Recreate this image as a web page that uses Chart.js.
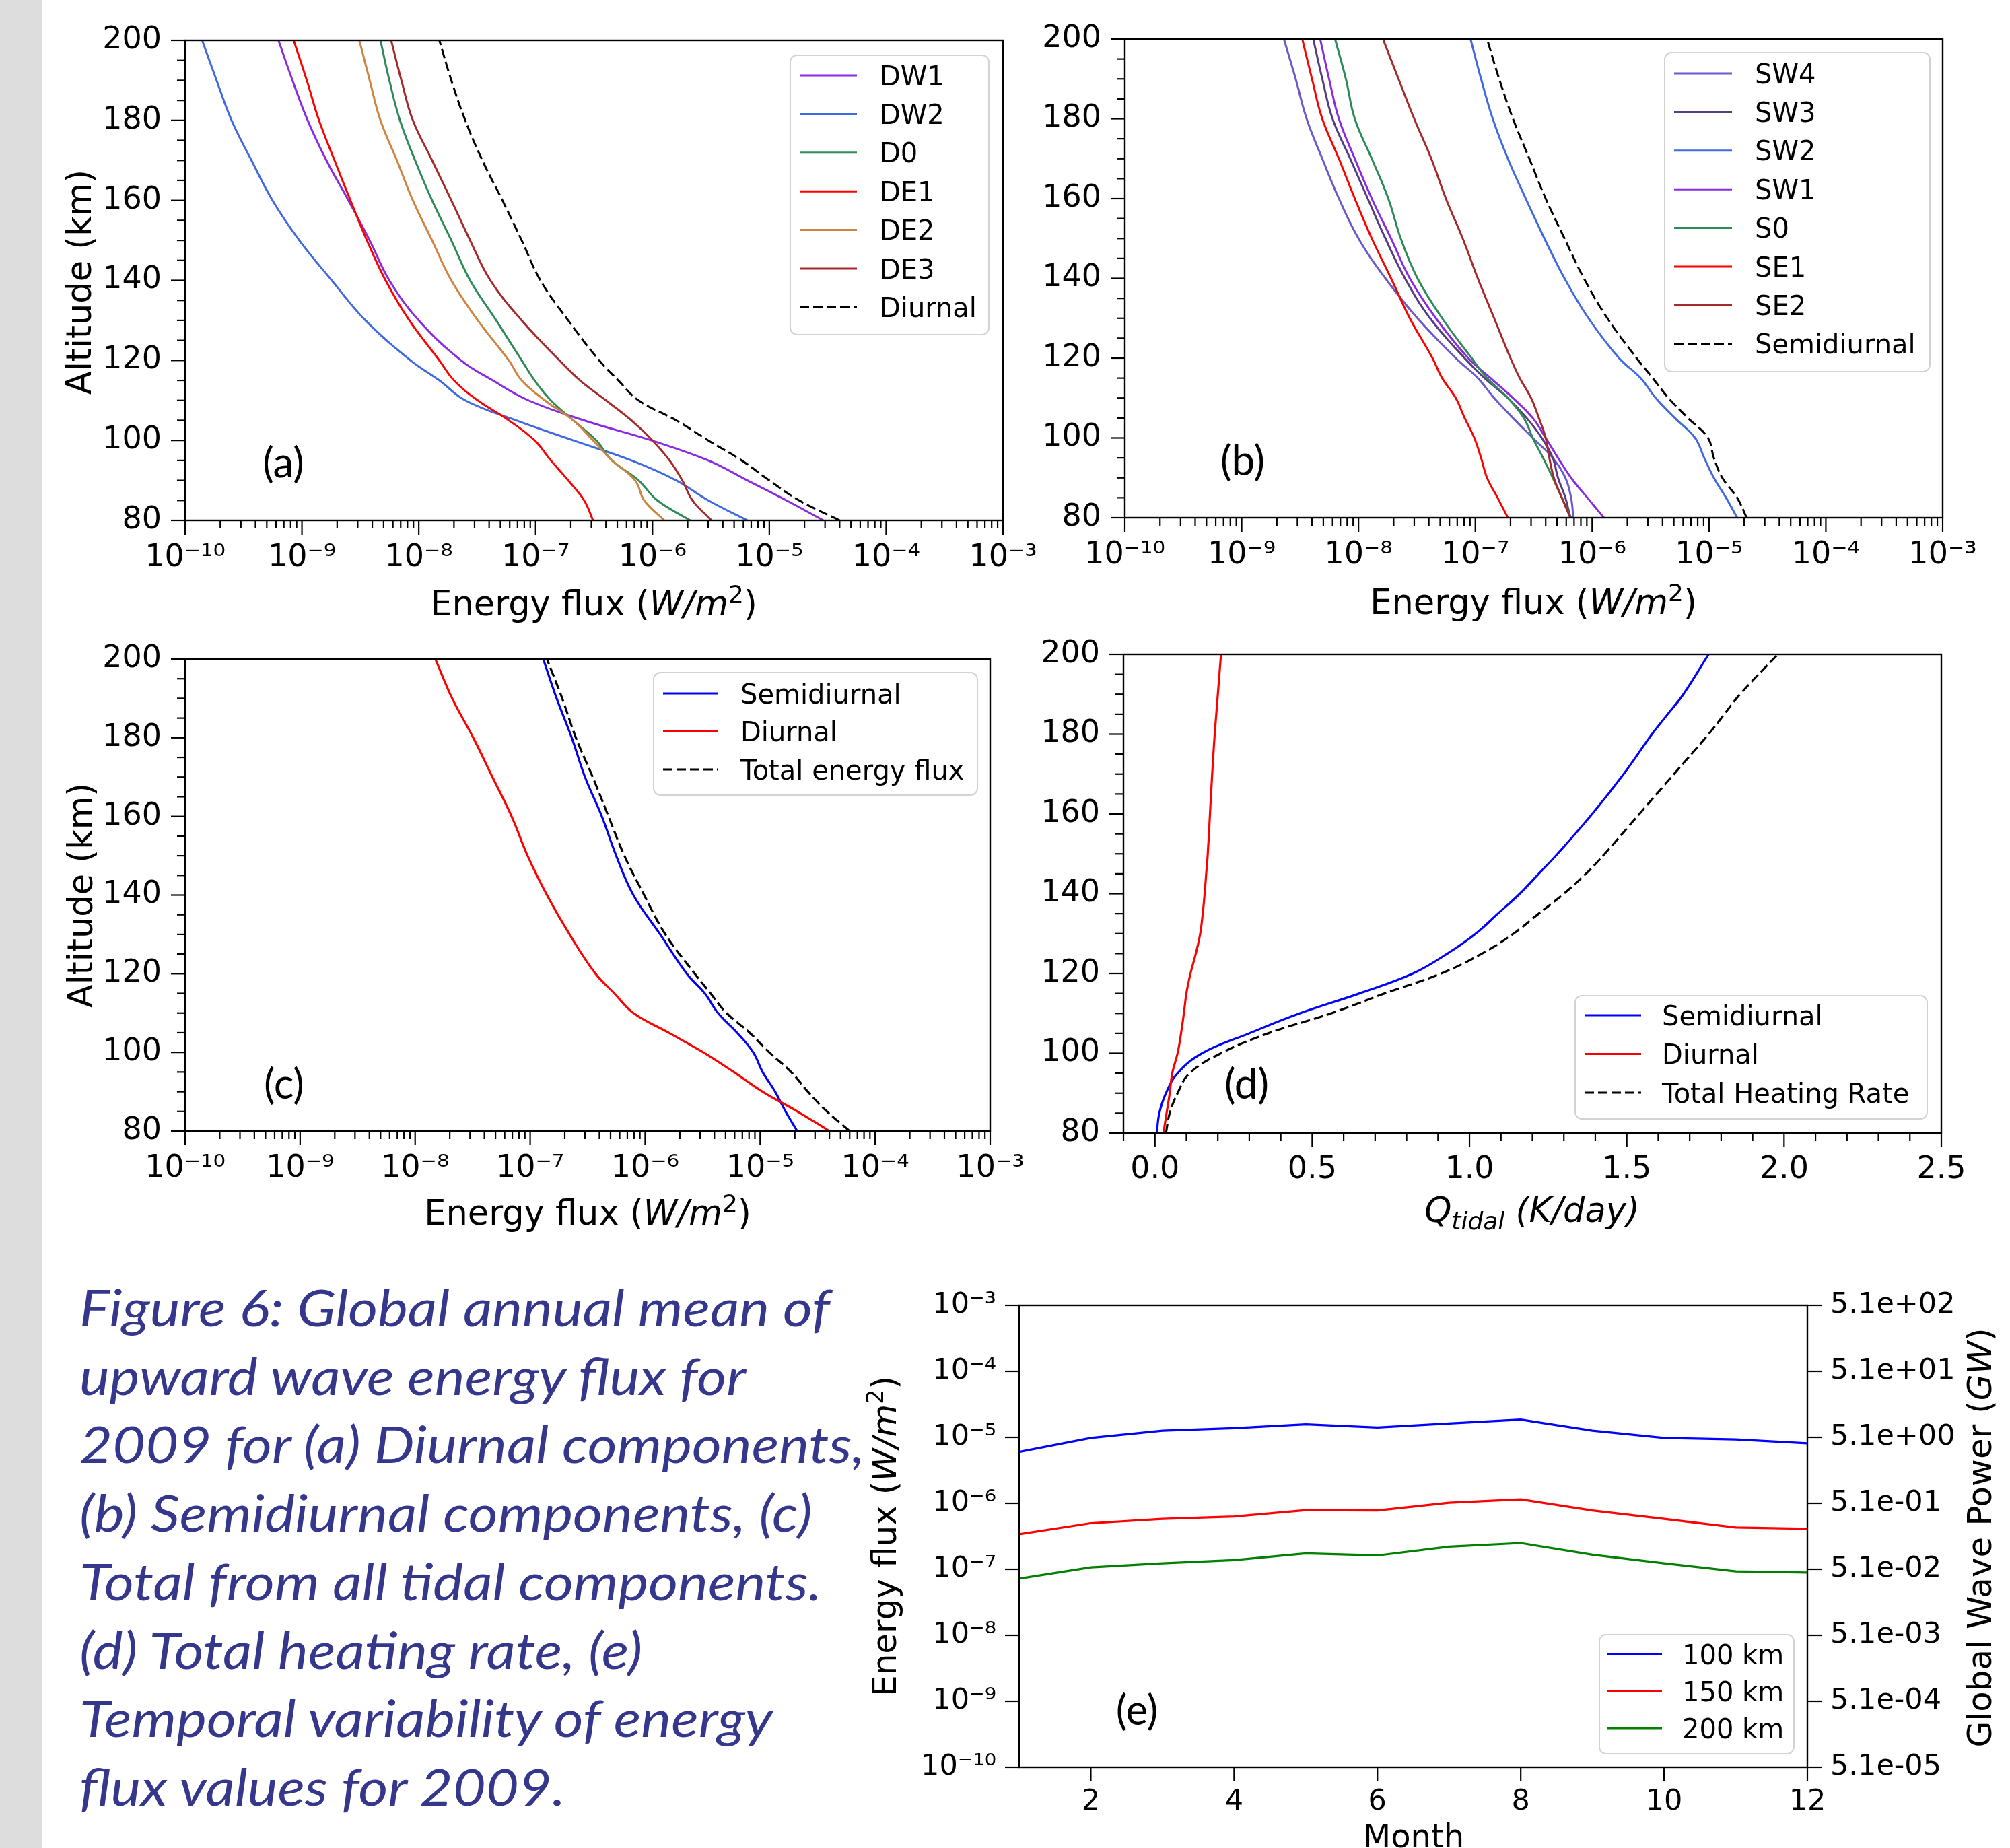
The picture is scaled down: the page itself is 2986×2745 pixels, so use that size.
<!DOCTYPE html>
<html>
<head>
<meta charset="utf-8">
<script src="https://cdn.jsdelivr.net/npm/chart.js@4.4.0/dist/chart.umd.min.js"></script>
<style>
html,body{margin:0;padding:0;background:#fff;}
body{width:2986px;height:2745px;position:relative;overflow:hidden;}
#bar{position:absolute;left:0;top:0;width:63px;height:2745px;background:#dddddd;}
canvas{position:absolute;}
#caption{position:absolute;left:118px;top:1900px;font-family:Lato,"Open Sans",sans-serif;font-style:italic;font-size:76px;line-height:101.7px;color:#34378c;white-space:nowrap;transform-origin:0 0;}
#caption .bl{display:inline-block;width:0;height:0;}
</style>
</head>
<body>
<div id="bar"></div>
<div id="caption"></div>
<canvas id="pa"></canvas>
<canvas id="pb"></canvas>
<canvas id="pc"></canvas>
<canvas id="pd"></canvas>
<canvas id="pe"></canvas>
<script>
// ---------------- DATA ----------------
const ALT = [80, 85, 90, 95, 100, 105, 110, 115, 120, 130, 140, 150, 160, 170, 180, 190, 200];

// (a) Diurnal components, energy flux W/m^2
const DW1 = [2.9e-5, 1.4e-5, 6.5e-6, 3.0e-6, 9.8e-7, 2.6e-7, 8.7e-8, 4.3e-8, 2.3e-8, 1.0e-8, 5.6e-9, 3.8e-9, 2.5e-9, 1.62e-9, 1.12e-9, 8.3e-10, 6.3e-10];
const DW2 = [6.5e-6, 3.0e-6, 1.6e-6, 6.6e-7, 2.1e-7, 6.8e-8, 2.5e-8, 1.5e-8, 8.5e-9, 3.5e-9, 1.8e-9, 9.5e-10, 5.6e-10, 3.7e-10, 2.5e-10, 1.86e-10, 1.4e-10];
const D0  = [2.1e-6, 1.1e-6, 7.6e-7, 4.5e-7, 3.3e-7, 2.1e-7, 1.35e-7, 9.8e-8, 7.6e-8, 4.6e-8, 2.75e-8, 1.9e-8, 1.3e-8, 9.3e-9, 6.9e-9, 5.6e-9, 4.7e-9];
const DE1 = [3.1e-7, 2.6e-7, 1.9e-7, 1.35e-7, 9.8e-8, 5.9e-8, 3.2e-8, 2.0e-8, 1.5e-8, 8.3e-9, 5.2e-9, 3.6e-9, 2.6e-9, 1.9e-9, 1.4e-9, 1.1e-9, 8.5e-10];
const DE2 = [1.26e-6, 8.5e-7, 7.1e-7, 4.5e-7, 3.1e-7, 2.1e-7, 1.2e-7, 7.6e-8, 5.9e-8, 3.2e-8, 1.9e-8, 1.3e-8, 8.9e-9, 6.5e-9, 4.7e-9, 3.8e-9, 3.1e-9];
const DE3 = [3.2e-6, 2.2e-6, 1.8e-6, 1.4e-6, 1.0e-6, 6.6e-7, 4.0e-7, 2.4e-7, 1.6e-7, 7.6e-8, 4.1e-8, 2.75e-8, 1.9e-8, 1.3e-8, 8.9e-9, 7.1e-9, 5.8e-9];
const DIURNAL_A = [4.0e-5, 1.8e-5, 1.0e-5, 5.8e-6, 3.0e-6, 1.6e-6, 7.6e-7, 5.1e-7, 3.5e-7, 1.9e-7, 1.1e-7, 7.6e-8, 5.2e-8, 3.5e-8, 2.5e-8, 1.9e-8, 1.5e-8];

// (b) Semidiurnal components
const SW4 = [6.9e-7, 6.6e-7, 5.9e-7, 4.6e-7, 3.1e-7, 2.1e-7, 1.45e-7, 1.05e-7, 6.8e-8, 3.2e-8, 1.7e-8, 1.0e-8, 6.8e-9, 4.9e-9, 3.6e-9, 2.9e-9, 2.3e-9];
const SW3 = [6.5e-7, 5.9e-7, 5.1e-7, 4.6e-7, 3.7e-7, 2.75e-7, 1.9e-7, 1.2e-7, 8.1e-8, 4.1e-8, 2.5e-8, 1.7e-8, 1.2e-8, 8.5e-9, 6.0e-9, 4.9e-9, 4.1e-9];
const SW2 = [1.74e-5, 1.4e-5, 1.1e-5, 9.1e-6, 7.6e-6, 5.1e-6, 3.5e-6, 2.6e-6, 1.7e-6, 9.3e-7, 5.8e-7, 3.9e-7, 2.7e-7, 1.9e-7, 1.41e-7, 1.12e-7, 9.1e-8];
const SW1 = [1.26e-6, 9.1e-7, 6.6e-7, 5.1e-7, 4.0e-7, 3.1e-7, 2.1e-7, 1.35e-7, 8.7e-8, 4.6e-8, 2.75e-8, 1.9e-8, 1.3e-8, 9.3e-9, 6.8e-9, 5.6e-9, 4.7e-9];
const S0  = [6.6e-7, 5.5e-7, 4.6e-7, 3.8e-7, 3.1e-7, 2.6e-7, 1.9e-7, 1.26e-7, 9.3e-8, 5.2e-8, 3.2e-8, 2.3e-8, 1.8e-8, 1.3e-8, 9.3e-9, 7.8e-9, 6.3e-9];
const SE1 = [1.9e-7, 1.55e-7, 1.26e-7, 1.12e-7, 9.8e-8, 8.1e-8, 6.8e-8, 5.2e-8, 4.3e-8, 2.75e-8, 1.9e-8, 1.3e-8, 9.3e-9, 6.8e-9, 4.9e-9, 4.0e-9, 3.3e-9];
const SE2 = [6.5e-7, 5.5e-7, 4.7e-7, 4.3e-7, 4.0e-7, 3.5e-7, 3.0e-7, 2.4e-7, 2.0e-7, 1.45e-7, 1.05e-7, 7.8e-8, 5.6e-8, 4.2e-8, 3.0e-8, 2.2e-8, 1.62e-8];
const SEMIDIURNAL_B = [2.1e-5, 1.74e-5, 1.3e-5, 1.1e-5, 9.8e-6, 6.6e-6, 4.5e-6, 3.3e-6, 2.4e-6, 1.35e-6, 8.5e-7, 5.8e-7, 4.0e-7, 2.9e-7, 2.1e-7, 1.6e-7, 1.26e-7];

// (c) Totals
const SEMIDIURNAL_C = [2.1e-5, 1.66e-5, 1.35e-5, 1.05e-5, 8.7e-6, 6.3e-6, 4.3e-6, 3.3e-6, 2.3e-6, 1.35e-6, 7.9e-7, 5.6e-7, 4.2e-7, 3.0e-7, 2.3e-7, 1.7e-7, 1.3e-7];
const DIURNAL_C = [4.0e-5, 2.1e-5, 1.05e-5, 5.9e-6, 3.2e-6, 1.6e-6, 7.9e-7, 5.4e-7, 3.7e-7, 2.2e-7, 1.4e-7, 9.5e-8, 6.9e-8, 4.7e-8, 3.2e-8, 2.1e-8, 1.5e-8];
const TOTAL_C = [6.0e-5, 3.8e-5, 2.6e-5, 1.86e-5, 1.2e-5, 8.1e-6, 5.1e-6, 3.7e-6, 2.7e-6, 1.5e-6, 9.8e-7, 6.6e-7, 4.8e-7, 3.5e-7, 2.5e-7, 1.9e-7, 1.4e-7];

// (d) Heating rate K/day
const Q_ALT = [80, 85, 90, 95, 100, 105, 110, 115, 120, 125, 130, 135, 140, 145, 150, 160, 170, 180, 185, 190, 200];
const Q_SEMI  = [0.006, 0.014, 0.035, 0.072, 0.15, 0.30, 0.46, 0.65, 0.82, 0.93, 1.02, 1.09, 1.16, 1.22, 1.28, 1.39, 1.49, 1.58, 1.63, 1.68, 1.76];
const Q_DIUR  = [0.027, 0.037, 0.047, 0.055, 0.072, 0.083, 0.092, 0.10, 0.113, 0.13, 0.144, 0.152, 0.158, 0.163, 0.168, 0.175, 0.182, 0.19, 0.195, 0.20, 0.21];
const Q_TOTAL = [0.035, 0.047, 0.072, 0.11, 0.21, 0.36, 0.56, 0.73, 0.91, 1.04, 1.14, 1.22, 1.30, 1.37, 1.43, 1.54, 1.65, 1.76, 1.81, 1.86, 1.98];

// (e) Monthly energy flux
const MONTHS = [1, 2, 3, 4, 5, 6, 7, 8, 9, 10, 11, 12];
const E_100 = [6.0e-6, 9.8e-6, 1.26e-5, 1.38e-5, 1.58e-5, 1.41e-5, 1.62e-5, 1.86e-5, 1.26e-5, 9.8e-6, 9.3e-6, 8.1e-6];
const E_150 = [3.4e-7, 5.0e-7, 5.8e-7, 6.3e-7, 7.9e-7, 7.8e-7, 1.02e-6, 1.15e-6, 7.8e-7, 5.8e-7, 4.3e-7, 4.1e-7];
const E_200 = [7.2e-8, 1.07e-7, 1.23e-7, 1.38e-7, 1.74e-7, 1.62e-7, 2.2e-7, 2.5e-7, 1.66e-7, 1.23e-7, 9.3e-8, 8.9e-8];

// Tick labels
const FLUX_DECADES = [1e-10, 1e-9, 1e-8, 1e-7, 1e-6, 1e-5, 1e-4, 1e-3];
const FLUX_TICK_LABELS = ['10⁻¹⁰', '10⁻⁹', '10⁻⁸', '10⁻⁷', '10⁻⁶', '10⁻⁵', '10⁻⁴', '10⁻³'];
const ALT_TICKS = [80, 100, 120, 140, 160, 180, 200];
const ALT_TICK_LABELS = ['80', '100', '120', '140', '160', '180', '200'];
const Q_TICKS = [0, 0.5, 1, 1.5, 2, 2.5];
const Q_TICK_LABELS = ['0.0', '0.5', '1.0', '1.5', '2.0', '2.5'];
const MONTH_TICKS = [2, 4, 6, 8, 10, 12];
const MONTH_TICK_LABELS = ['2', '4', '6', '8', '10', '12'];
const POWER_TICKS = [5.1e-5, 5.1e-4, 5.1e-3, 5.1e-2, 5.1e-1, 5.1e0, 5.1e1, 5.1e2];
const POWER_TICK_LABELS = ['5.1e-05', '5.1e-04', '5.1e-03', '5.1e-02', '5.1e-01', '5.1e+00', '5.1e+01', '5.1e+02'];

const CAPTION_LINES = [
  'Figure 6: Global annual mean of',
  'upward wave energy flux for',
  '2009 for (a) Diurnal components,',
  '(b) Semidiurnal components, (c)',
  'Total from all tidal components.',
  '(d) Total heating rate, (e)',
  'Temporal variability of energy',
  'flux values for 2009.'
];

// ---------------- STYLE HELPERS ----------------
Chart.defaults.font.family = 'DejaVu Sans';
Chart.defaults.color = '#000';
const DF = '"DejaVu Sans"';
const fnt = (size, style) => (style ? style + ' ' : '') + size + 'px ' + DF;
const DASH = [14, 6];

function roundRect(ctx, x, y, w, h, r) {
  ctx.beginPath();
  ctx.moveTo(x + r, y); ctx.lineTo(x + w - r, y); ctx.arcTo(x + w, y, x + w, y + r, r);
  ctx.lineTo(x + w, y + h - r); ctx.arcTo(x + w, y + h, x + w - r, y + h, r);
  ctx.lineTo(x + r, y + h); ctx.arcTo(x, y + h, x, y + h - r, r);
  ctx.lineTo(x, y + r); ctx.arcTo(x, y, x + r, y, r); ctx.closePath();
}
function drawRuns(ctx, runs, x, y, rot) {
  ctx.save(); ctx.translate(x, y); ctx.rotate(rot);
  ctx.textAlign = 'left'; ctx.textBaseline = 'alphabetic'; ctx.fillStyle = '#000';
  let total = 0;
  const ws = runs.map(r => { ctx.font = r.f; const w = ctx.measureText(r.t).width; total += w; return w; });
  let cx = -total / 2;
  runs.forEach((r, i) => { ctx.font = r.f; ctx.fillText(r.t, cx, r.dy || 0); cx += ws[i]; });
  ctx.restore();
}

const DECO = {};
const decoPlugin = {
  id: 'deco',
  afterDraw(chart) {
    const o = DECO[chart.canvas.id]; if (!o) return;
    const ctx = chart.ctx, ca = chart.chartArea;
    const X = v => v - o.ox, Y = v => v - o.oy;
    ctx.save();
    ctx.strokeStyle = '#000'; ctx.lineWidth = 2.2; ctx.setLineDash([]);
    for (const s of Object.values(chart.scales)) {
      for (const t of s.ticks) {
        const p = s.getPixelForValue(t.value);
        const L = t.major ? 21 : 12;
        ctx.beginPath();
        if (s.position === 'bottom') { ctx.moveTo(p, ca.bottom); ctx.lineTo(p, ca.bottom + L); }
        else if (s.position === 'left') { ctx.moveTo(ca.left, p); ctx.lineTo(ca.left - L, p); }
        else { ctx.moveTo(ca.right, p); ctx.lineTo(ca.right + L, p); }
        ctx.stroke();
      }
    }
    ctx.lineWidth = 2.4;
    ctx.strokeRect(ca.left, ca.top, ca.right - ca.left, ca.bottom - ca.top);
    const lg = o.legend;
    if (lg) {
      const [x0, y0, x1, y1] = lg.box;
      roundRect(ctx, X(x0), Y(y0), x1 - x0, y1 - y0, 10);
      ctx.fillStyle = 'rgba(255,255,255,0.85)'; ctx.fill();
      ctx.strokeStyle = '#d2d2d2'; ctx.lineWidth = 2; ctx.stroke();
      chart.data.datasets.forEach((d, i) => {
        const ry = Y(lg.row0 + i * lg.step);
        ctx.beginPath(); ctx.setLineDash(d.borderDash || []);
        ctx.strokeStyle = d.borderColor; ctx.lineWidth = d.borderWidth;
        ctx.moveTo(X(lg.line[0]), ry); ctx.lineTo(X(lg.line[1]), ry); ctx.stroke();
        ctx.setLineDash([]);
        ctx.fillStyle = '#000'; ctx.font = lg.font; ctx.textAlign = 'left'; ctx.textBaseline = 'alphabetic';
        ctx.fillText(d.label, X(lg.textX), ry + lg.capHalf);
      });
    }
    (o.titles || []).forEach(tt => drawRuns(ctx, tt.runs, X(tt.x), Y(tt.y), tt.rot || 0));
    if (o.label) {
      ctx.fillStyle = '#000'; ctx.font = o.label.font; ctx.textAlign = 'center'; ctx.textBaseline = 'alphabetic';
      ctx.fillText(o.label.text, X(o.label.x), Y(o.label.y));
    }
    ctx.restore();
  }
};

function fluxAxis(o) {
  return {
    type: 'logarithmic', position: o.position, min: 1e-10, max: 1e-3,
    grid: { display: false, drawTicks: true, tickLength: 21 }, border: { display: false },
    ticks: {
      autoSkip: false, maxRotation: 0, minRotation: 0, padding: o.pad, color: '#000',
      font: { family: 'DejaVu Sans', size: o.size },
      callback: (v, i, t) => t[i].major ? FLUX_TICK_LABELS[FLUX_DECADES.indexOf(v)] : ''
    },
    afterBuildTicks: s => {
      const t = [];
      FLUX_DECADES.forEach((d, k) => {
        t.push({ value: d, major: true });
        if (o.minor && k < FLUX_DECADES.length - 1) for (let m = 2; m < 10; m++) t.push({ value: m * d, major: false });
      });
      s.ticks = t;
    },
    afterFit: s => { if (o.height) s.height = o.height; if (o.width) s.width = o.width; }
  };
}
function altAxis(width, pad) {
  return {
    type: 'linear', position: 'left', min: 80, max: 200,
    grid: { display: false, drawTicks: true, tickLength: 21 }, border: { display: false },
    ticks: {
      autoSkip: false, padding: pad, color: '#000', font: { family: 'DejaVu Sans', size: 46 },
      callback: (v, i, t) => t[i].major ? ALT_TICK_LABELS[ALT_TICKS.indexOf(v)] : ''
    },
    afterBuildTicks: s => {
      const t = [];
      for (let a = 80; a <= 200; a += 5) t.push({ value: a, major: ALT_TICKS.includes(a) });
      s.ticks = t;
    },
    afterFit: s => { s.width = width; }
  };
}
function line(label, vals, yvals, color, width, dash, n, i, profile) {
  return {
    label, borderColor: color, backgroundColor: color, borderWidth: width,
    borderDash: dash || [], pointRadius: 0, fill: false, order: n - i,
    tension: profile ? 0.4 : 0,
    data: vals.map((v, k) => profile ? { x: v, y: yvals[k] } : { x: yvals[k], y: v })
  };
}
function makeChart(id, rect, pad, datasets, scales, indexAxis) {
  const c = document.getElementById(id);
  c.width = rect[2]; c.height = rect[3];
  c.style.left = rect[0] + 'px'; c.style.top = rect[1] + 'px';
  return new Chart(c, {
    type: 'line',
    data: { datasets },
    options: {
      indexAxis, responsive: false, animation: false, devicePixelRatio: 1,
      layout: { padding: pad },
      plugins: { legend: { display: false }, tooltip: { enabled: false } },
      scales
    },
    plugins: [decoPlugin]
  });
}

const TT = 51;
const fluxTitle = (size) => [
  { t: 'Energy flux (', f: fnt(size) }, { t: 'W/m', f: fnt(size, 'italic') },
  { t: '2', f: fnt(Math.round(size * 0.7)), dy: -Math.round(size * 0.38) }, { t: ')', f: fnt(size) }
];
const LEG_FONT = fnt(40);
const LBL_FONT = '62px Lato';

// ---------------- PANEL (a) ----------------
{
  const sets = [['DW1', DW1, '#8a2be2'], ['DW2', DW2, '#4169e1'], ['D0', D0, '#2e8b57'], ['DE1', DE1, '#ff0000'],
                ['DE2', DE2, '#cd853f'], ['DE3', DE3, '#a52a2a'], ['Diurnal', DIURNAL_A, '#000000']];
  const ds = sets.map((s, i) => line(s[0], s[1], ALT, s[2], 3, s[0] === 'Diurnal' ? DASH : null, sets.length, i, true));
  DECO.pa = {
    ox: 70, oy: 0,
    legend: { box: [1174, 82, 1469, 497], row0: 112, step: 57.4, line: [1188, 1273], textX: 1307, font: LEG_FONT, capHalf: 14.5 },
    titles: [{ runs: [{ t: 'Altitude (km)', f: fnt(TT) }], x: 135, y: 419, rot: -Math.PI / 2 },
             { runs: fluxTitle(TT), x: 882, y: 914 }],
    label: { text: '(a)', x: 421, y: 709, font: LBL_FONT }
  };
  makeChart('pa', [70, 0, 1510, 930], { left: 0, right: 90, top: 60, bottom: 0 }, ds,
    { x: fluxAxis({ position: 'bottom', pad: 7, size: 46, minor: true, height: 157 }), y: altAxis(205, 14) }, 'y');
}
// ---------------- PANEL (b) ----------------
{
  const sets = [['SW4', SW4, '#6a5acd'], ['SW3', SW3, '#573d7f'], ['SW2', SW2, '#4169e1'], ['SW1', SW1, '#8a2be2'],
                ['S0', S0, '#2e8b57'], ['SE1', SE1, '#ff0000'], ['SE2', SE2, '#a52a2a'], ['Semidiurnal', SEMIDIURNAL_B, '#000000']];
  const ds = sets.map((s, i) => line(s[0], s[1], ALT, s[2], 3, s[0] === 'Semidiurnal' ? DASH : null, sets.length, i, true));
  DECO.pb = {
    ox: 1500, oy: 0,
    legend: { box: [2473, 78, 2867, 552], row0: 109, step: 57.4, line: [2487, 2573], textX: 2607, font: LEG_FONT, capHalf: 14.5 },
    titles: [{ runs: fluxTitle(TT), x: 2278, y: 912 }],
    label: { text: '(b)', x: 1846, y: 706, font: LBL_FONT }
  };
  makeChart('pb', [1500, 0, 1486, 930], { left: 0, right: 100, top: 58, bottom: 0 }, ds,
    { x: fluxAxis({ position: 'bottom', pad: 7, size: 46, minor: true, height: 161 }), y: altAxis(171, 14) }, 'y');
}
// ---------------- PANEL (c) ----------------
{
  const sets = [['Semidiurnal', SEMIDIURNAL_C, '#0000ff', null], ['Diurnal', DIURNAL_C, '#ff0000', null], ['Total energy flux', TOTAL_C, '#000000', DASH]];
  const ds = sets.map((s, i) => line(s[0], s[1], ALT, s[2], 3.2, s[3], sets.length, i, true));
  DECO.pc = {
    ox: 70, oy: 930,
    legend: { box: [971, 999, 1452, 1181], row0: 1030, step: 56.5, line: [985, 1067], textX: 1100, font: LEG_FONT, capHalf: 14.5 },
    titles: [{ runs: [{ t: 'Altitude (km)', f: fnt(TT) }], x: 137, y: 1330, rot: -Math.PI / 2 },
             { runs: fluxTitle(TT), x: 873, y: 1819 }],
    label: { text: '(c)', x: 422, y: 1632, font: LBL_FONT }
  };
  makeChart('pc', [70, 930, 1510, 920], { left: 0, right: 109, top: 49, bottom: 0 }, ds,
    { x: fluxAxis({ position: 'bottom', pad: 7, size: 46, minor: true, height: 170 }), y: altAxis(205, 14) }, 'y');
}
// ---------------- PANEL (d) ----------------
{
  const sets = [['Semidiurnal', Q_SEMI, '#0000ff', null], ['Diurnal', Q_DIUR, '#ff0000', null], ['Total Heating Rate', Q_TOTAL, '#000000', DASH]];
  const ds = sets.map((s, i) => line(s[0], s[1], Q_ALT, s[2], 3.2, s[3], sets.length, i, true));
  DECO.pd = {
    ox: 1500, oy: 930,
    legend: { box: [2340, 1479, 2863, 1662], row0: 1508, step: 57.5, line: [2354, 2438], textX: 2469, font: LEG_FONT, capHalf: 14.5 },
    titles: [{ runs: [{ t: 'Q', f: fnt(TT, 'italic') }, { t: 'tidal', f: fnt(36, 'italic'), dy: 11 }, { t: ' (K/day)', f: fnt(TT, 'italic') }], x: 2276, y: 1815 }],
    label: { text: '(d)', x: 1852, y: 1632, font: LBL_FONT }
  };
  const qAxis = {
    type: 'linear', position: 'bottom', min: -0.1, max: 2.5,
    grid: { display: false, drawTicks: true, tickLength: 21 }, border: { display: false },
    ticks: {
      autoSkip: false, maxRotation: 0, minRotation: 0, padding: 6, color: '#000', font: { family: 'DejaVu Sans', size: 46 },
      callback: (v, i, t) => t[i].major ? Q_TICK_LABELS[Q_TICKS.indexOf(v)] : ''
    },
    afterBuildTicks: s => {
      const t = [];
      for (let k = -1; k <= 25; k++) t.push({ value: k / 10, major: k % 5 === 0 });
      s.ticks = t;
    },
    afterFit: s => { s.height = 167; }
  };
  makeChart('pd', [1500, 930, 1486, 920], { left: 0, right: 102, top: 42, bottom: 0 }, ds,
    { x: qAxis, y: altAxis(169, 14) }, 'y');
}
// ---------------- PANEL (e) ----------------
{
  const sets = [['100 km', E_100, '#0000ff'], ['150 km', E_150, '#ff0000'], ['200 km', E_200, '#008000']];
  const ds = sets.map((s, i) => line(s[0], s[1], MONTHS, s[2], 3.2, null, sets.length, i, false));
  DECO.pe = {
    ox: 1250, oy: 1870,
    legend: { box: [2376, 2428, 2665, 2605], row0: 2457, step: 55, line: [2388, 2469], textX: 2499, font: LEG_FONT, capHalf: 14.5 },
    titles: [{ runs: fluxTitle(50), x: 1331, y: 2282, rot: -Math.PI / 2 },
             { runs: [{ t: 'Global Wave Power (', f: fnt(50) }, { t: 'GW', f: fnt(50, 'italic') }, { t: ')', f: fnt(50) }], x: 2958, y: 2284, rot: -Math.PI / 2 },
             { runs: [{ t: 'Month', f: fnt(48) }], x: 2100, y: 2744 }],
    label: { text: '(e)', x: 1689, y: 2562, font: LBL_FONT }
  };
  const monthAxis = {
    type: 'linear', position: 'bottom', min: 1, max: 12,
    grid: { display: false, drawTicks: true, tickLength: 21 }, border: { display: false },
    ticks: {
      autoSkip: false, maxRotation: 0, minRotation: 0, padding: 5, color: '#000', font: { family: 'DejaVu Sans', size: 43 },
      callback: (v, i, t) => MONTH_TICK_LABELS[MONTH_TICKS.indexOf(v)]
    },
    afterBuildTicks: s => { s.ticks = MONTH_TICKS.map(m => ({ value: m, major: true })); },
    afterFit: s => { s.height = 120; }
  };
  const powerAxis = {
    type: 'logarithmic', position: 'right', min: POWER_TICKS[0], max: POWER_TICKS[POWER_TICKS.length - 1],
    grid: { display: false, drawTicks: true, tickLength: 21 }, border: { display: false },
    ticks: {
      autoSkip: false, padding: 13, color: '#000', font: { family: 'DejaVu Sans', size: 43 },
      callback: (v, i, t) => POWER_TICK_LABELS[POWER_TICKS.indexOf(v)]
    },
    afterBuildTicks: s => { s.ticks = POWER_TICKS.map(p => ({ value: p, major: true })); },
    afterFit: s => { s.width = 301; }
  };
  makeChart('pe', [1250, 1870, 1736, 875], { left: 0, right: 0, top: 69, bottom: 0 }, ds,
    { x: monthAxis, y: fluxAxis({ position: 'left', pad: 13, size: 43, minor: false, width: 264 }), y2: powerAxis }, 'x');
}

// ---------------- CAPTION ----------------
{
  const cap = document.getElementById('caption');
  CAPTION_LINES.forEach(l => {
    const d = document.createElement('div');
    const s = document.createElement('span'); s.className = 'txt'; s.textContent = l;
    const b = document.createElement('span'); b.className = 'bl';
    d.appendChild(s); d.appendChild(b); cap.appendChild(d);
  });
  const w = cap.querySelector('.txt').getBoundingClientRect().width;
  const scale = 1115 / w;
  const bl = cap.querySelector('.bl').offsetTop;
  cap.style.top = (1970 - bl) + 'px';
  cap.style.transform = 'scaleX(' + scale.toFixed(4) + ')';
}
</script>
</body>
</html>
